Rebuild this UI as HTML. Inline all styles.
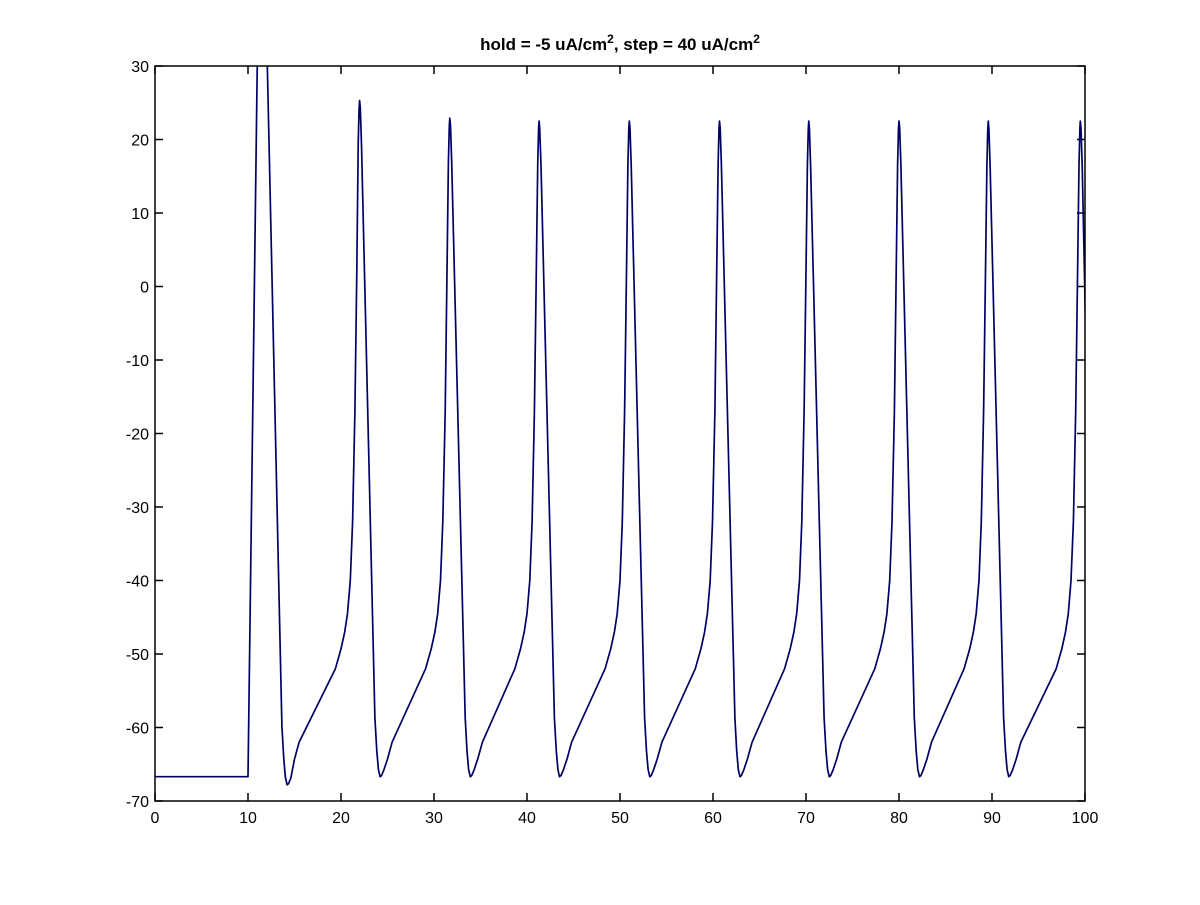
<!DOCTYPE html>
<html><head><meta charset="utf-8"><style>
body{margin:0;background:#fff}
svg text{font-family:"Liberation Sans",Arial,sans-serif;fill:#000}
</style></head><body>
<svg id="chart" width="1200" height="900" xmlns="http://www.w3.org/2000/svg">
<rect width="1200" height="900" fill="#fff"/>
<text x="620" y="50" text-anchor="middle" font-size="17" font-weight="bold">hold = -5 uA/cm<tspan dy="-7" font-size="12">2</tspan><tspan dy="7">, step = 40 uA/cm</tspan><tspan dy="-7" font-size="12">2</tspan></text>
<defs><clipPath id="clip"><rect x="155" y="66" width="930" height="735"/></clipPath></defs>
<g id="ticks"></g>
<path id="trace" clip-path="url(#clip)" fill="none" stroke="#000066" stroke-width="1.7" stroke-linejoin="round"/>
<rect x="155" y="66" width="930" height="735" fill="none" stroke="#000" stroke-width="1.5"/>
</svg>
<script>
const xTicks=[0,10,20,30,40,50,60,70,80,90,100];
const yTicks=[-70,-60,-50,-40,-30,-20,-10,0,10,20,30];
const baseline=-66.7;
const stimOn=10;
const peakTimes=[11.5,22.0,31.7,41.3,51.0,60.7,70.3,80.0,89.6,99.5];
const peakValues=[40,25.3,22.9,22.5,22.5,22.5,22.5,22.5,22.5,22.5];
const troughTimes=[14.2,24.2,33.9,43.5,53.2,62.9,72.5,82.2,91.8];
const troughValues=[-67.8,-66.7,-66.7,-66.7,-66.7,-66.7,-66.7,-66.7,-66.7];
const X0=155,X1=1085,Y0=801,Y1=66;
const sx=t=>X0+(t-0)/(100-0)*(X1-X0);
const sy=v=>Y0-(v-(-70))/(30-(-70))*(Y0-Y1);
const NS="http://www.w3.org/2000/svg";
const tg=document.getElementById('ticks');
function mk(tag,attrs){const e=document.createElementNS(NS,tag);for(const k in attrs)e.setAttribute(k,attrs[k]);return e;}
xTicks.forEach(t=>{
  const x=sx(t);
  const a=mk('line',{x1:x,x2:x,y1:Y0,y2:Y0-8,stroke:'#000','stroke-width':1.5});
  
  
  tg.appendChild(a);
  const b=mk('line',{x1:x,x2:x,y1:Y1,y2:Y1+8,stroke:'#000','stroke-width':1.5});
  
  
  tg.appendChild(b);
  const l=mk('text',{x:x,y:Y0+22,'text-anchor':'middle','font-size':16});
  
  
  l.textContent=t;tg.appendChild(l);
});
yTicks.forEach(v=>{
  const y=sy(v);
  const a=mk('line',{x1:X0,x2:X0+8,y1:y,y2:y,stroke:'#000','stroke-width':1.5});
  
  
  tg.appendChild(a);
  const b=mk('line',{x1:X1,x2:X1-8,y1:y,y2:y,stroke:'#000','stroke-width':1.5});
  
  
  tg.appendChild(b);
  const l=mk('text',{x:X0-6,y:y+6,'text-anchor':'end','font-size':16});
  
  
  l.textContent=v;tg.appendChild(l);
});
const pts=[[0,baseline],[stimOn,baseline]];
for(let i=0;i<peakTimes.length;i++){
  const tp=peakTimes[i],vp=peakValues[i];
  if(i===0){ pts.push([tp-0.4,vp]);pts.push([tp+0.4,vp]); }
  else{
    const tt=troughTimes[i-1];
    pts.push([tt+0.15,troughValues[i-1]+0.15]);
    pts.push([tt+0.4,troughValues[i-1]+0.9]);
    pts.push([tt+0.8,-64.3]);
    pts.push([tt+1.3,-62]);
    pts.push([tp-2.6,-52]);
    pts.push([tp-2.0,-49.3]);
    pts.push([tp-1.6,-47]);
    pts.push([tp-1.3,-44.5]);
    pts.push([tp-1.0,-40]);
    pts.push([tp-0.75,-32]);
    pts.push([tp-0.5,-17]);
    pts.push([tp-0.3,2]);
    pts.push([tp-0.15,vp-6]);
    pts.push([tp-0.05,vp-1]);
    pts.push([tp,vp]);
    pts.push([tp+0.07,vp-1]);
    pts.push([tp+0.2,vp-6]);
  }
  if(i<troughTimes.length){
    const tt=troughTimes[i],vt=troughValues[i];
    pts.push([tt-0.55,vt+8]);
    pts.push([tt-0.35,vt+3.5]);
    pts.push([tt-0.18,vt+1]);
    pts.push([tt,vt]);
  } else {
    pts.push([tp+0.55,-5]);
    pts.push([tp+0.8,-25]);
  }
}
document.getElementById('trace').setAttribute('d',pts.map((p,i)=>(i?'L':'M')+sx(p[0]).toFixed(1)+','+sy(p[1]).toFixed(1)).join(''));
</script>
</body></html>
